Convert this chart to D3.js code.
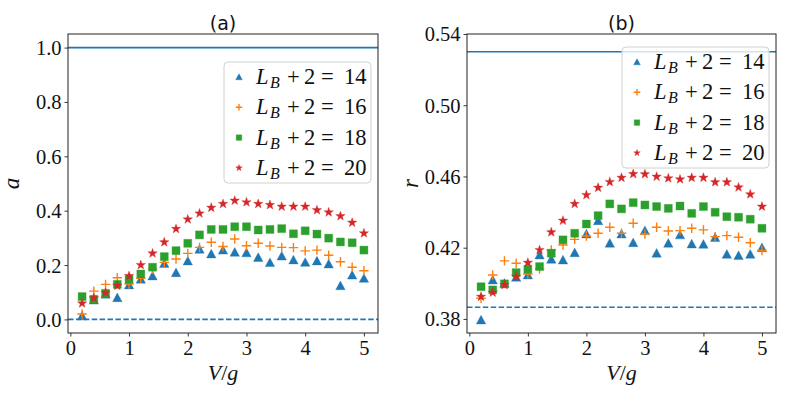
<!DOCTYPE html>
<html><head><meta charset="utf-8">
<script src="https://cdn.jsdelivr.net/npm/d3@7"></script>
<style>
body{margin:0;background:#fff;}
svg{display:block;}
</style></head>
<body>
<svg id="chart" width="797" height="399"></svg>
<script>
const V = [0.2,0.4,0.6,0.8,1.0,1.2,1.4,1.6,1.8,2.0,2.2,2.4,2.6,2.8,3.0,3.2,3.4,3.6,3.8,4.0,4.2,4.4,4.6,4.8,5.0];

const a14 = [0.013,0.071,0.093,0.080,0.127,0.148,0.160,0.206,0.172,0.215,0.258,0.241,0.255,0.247,0.245,0.228,0.209,0.233,0.219,0.210,0.215,0.204,0.124,0.163,0.151];
const a16 = [0.020,0.104,0.129,0.153,0.130,0.151,0.185,0.210,0.222,0.243,0.265,0.284,0.268,0.296,0.271,0.280,0.270,0.265,0.264,0.252,0.255,0.236,0.212,0.192,0.179];
const a18 = [0.084,0.074,0.096,0.129,0.147,0.167,0.192,0.231,0.253,0.280,0.311,0.331,0.331,0.341,0.341,0.329,0.331,0.334,0.315,0.326,0.314,0.299,0.285,0.282,0.255];
const a20 = [0.059,0.078,0.098,0.124,0.160,0.200,0.243,0.284,0.333,0.368,0.390,0.411,0.425,0.437,0.431,0.425,0.421,0.415,0.415,0.415,0.402,0.394,0.380,0.356,0.317];

const r14 = [0.3794,0.4019,0.4000,0.4034,0.4047,0.4159,0.4135,0.4131,0.4172,0.4277,0.4352,0.4225,0.4277,0.4228,0.4296,0.4169,0.4225,0.4272,0.4221,0.4219,0.4257,0.4163,0.4156,0.4163,0.4200];
const r16 = [0.3916,0.4047,0.4126,0.4113,0.4052,0.4080,0.4187,0.4215,0.4247,0.4266,0.4281,0.4315,0.4281,0.4337,0.4277,0.4315,0.4294,0.4296,0.4309,0.4300,0.4262,0.4268,0.4259,0.4228,0.4184];
const r18 = [0.3981,0.3963,0.3997,0.4060,0.4079,0.4094,0.4169,0.4244,0.4281,0.4333,0.4380,0.4446,0.4418,0.4453,0.4440,0.4431,0.4421,0.4434,0.4393,0.4431,0.4399,0.4374,0.4371,0.4360,0.4309];
const r20 = [0.3925,0.3948,0.3991,0.4038,0.4116,0.4187,0.4287,0.4352,0.4446,0.4496,0.4537,0.4569,0.4593,0.4614,0.4613,0.4599,0.4590,0.4584,0.4593,0.4593,0.4568,0.4568,0.4539,0.4500,0.4431];

const seriesSizes = ["14","16","18","20"];
const seriesColors = ["#1f77b4","#ff7f0e","#2ca02c","#d62728"];
const seriesMarkers = ["triangle","plus","square","star"];

const xTicks = [0,1,2,3,4,5];
const aTicks = [0.0,0.2,0.4,0.6,0.8,1.0];
const rTicks = [0.38,0.42,0.46,0.50,0.54];

const aRefLines = {solid:1.0, dashed:0.0};
const rRefLines = {solid:0.53, dashed:0.3866};

const svg = d3.select("#chart");
const serif = "'Liberation Serif', 'DejaVu Serif', serif";

function markerPath(type, s){
  if(type==="triangle"){
    return `M0,${-s}L${s},${s*0.85}L${-s},${s*0.85}Z`;
  }
  if(type==="square"){
    const h=s*0.85; return `M${-h},${-h}H${h}V${h}H${-h}Z`;
  }
  if(type==="plus"){
    return `M${-s},0H${s}M0,${-s}V${s}`;
  }
  if(type==="star"){
    let p=""; const ri=s*0.42;
    for(let k=0;k<10;k++){
      const r = k%2===0 ? s*1.05 : ri;
      const ang = -Math.PI/2 + k*Math.PI/5;
      p += (k===0?"M":"L") + (r*Math.cos(ang)).toFixed(2)+","+(r*Math.sin(ang)).toFixed(2);
    }
    return p+"Z";
  }
}

function drawMarker(g, type, color, x, y, s){
  const p = g.append("path").attr("d", markerPath(type,s)).attr("transform",`translate(${x},${y})`);
  if(type==="plus") p.attr("fill","none").attr("stroke",color).attr("stroke-width",1.4);
  else p.attr("fill",color).attr("stroke",color).attr("stroke-width",0.6).attr("stroke-opacity",0.6);
}

function panel(cfg){
  const {left,right,top,bottom,ylim,yTicks,yFmt,data,ref,title,ylabel,legend} = cfg;
  const x = d3.scaleLinear().domain([-0.04,5.24]).range([left,right]);
  const y = d3.scaleLinear().domain(ylim).range([bottom,top]);
  const g = svg.append("g");

  g.append("line").attr("x1",left).attr("x2",right).attr("y1",y(ref.solid)).attr("y2",y(ref.solid))
    .attr("stroke","#1f77b4").attr("stroke-width",1.6);
  g.append("line").attr("x1",left).attr("x2",right).attr("y1",y(ref.dashed)).attr("y2",y(ref.dashed))
    .attr("stroke","#1f77b4").attr("stroke-width",1.6).attr("stroke-dasharray","5.5,2.4");

  data.forEach((vals,si)=>{
    const sg = g.append("g");
    vals.forEach((v,i)=>{
      drawMarker(sg, seriesMarkers[si], seriesColors[si], x(V[i]), y(v), 4.7);
    });
  });

  const xa = g.append("g").attr("transform",`translate(0,${bottom})`)
    .call(d3.axisBottom(x).tickValues(xTicks).tickFormat(d3.format("d")).tickSize(3.5).tickPadding(3));
  const ya = g.append("g").attr("transform",`translate(${left},0)`)
    .call(d3.axisLeft(y).tickValues(yTicks).tickFormat(d3.format(yFmt)).tickSize(3.5).tickPadding(3));
  [xa,ya].forEach(a=>{
    a.select(".domain").remove();
    a.selectAll(".tick line").attr("stroke","#222").attr("stroke-width",0.9);
    a.selectAll(".tick text").attr("font-family",serif).attr("font-size",20.5).attr("fill","#111");
  });
  xa.selectAll(".tick text").attr("dy","0.78em");
  ya.selectAll(".tick text").attr("dy","0.34em");

  g.append("rect").attr("x",left).attr("y",top).attr("width",right-left).attr("height",bottom-top)
    .attr("fill","none").attr("stroke","#222").attr("stroke-width",1);

  g.append("text").attr("x",(left+right)/2).attr("y",top-4).attr("text-anchor","middle")
    .attr("font-family","'DejaVu Sans', sans-serif").attr("font-size",19).attr("fill","#111").text(title);

  const xl = g.append("text").attr("x",(left+right)/2).attr("y",380).attr("text-anchor","middle")
    .attr("font-family",serif).attr("font-size",22).attr("fill","#111");
  xl.append("tspan").attr("font-style","italic").text("V");
  xl.append("tspan").text("/");
  xl.append("tspan").attr("font-style","italic").text("g");

  g.append("text").attr("transform",`translate(${left-49},${(top+bottom)/2}) rotate(-90)`)
    .attr("text-anchor","middle").attr("font-family",serif).attr("font-style","italic")
    .attr("font-size",23).attr("fill","#111").text(ylabel);

  const lg = g.append("g");
  lg.append("rect").attr("x",legend.x).attr("y",legend.y).attr("width",legend.w).attr("height",legend.h)
    .attr("rx",4).attr("fill","#fff").attr("fill-opacity",0.8).attr("stroke","#d0d0d0").attr("stroke-width",1);
  seriesSizes.forEach((sz,i)=>{
    const cy = legend.y + 15 + i*30.3;
    drawMarker(lg, seriesMarkers[i], seriesColors[i], legend.x+15, cy, 3.3);
    const tx = legend.x + 32;
    const base = cy + 7;
    const t = lg.append("text").attr("font-family",serif).attr("font-size",22.5).attr("fill","#111");
    t.append("tspan").attr("x",tx).attr("y",base).attr("font-style","italic").text("L");
    t.append("tspan").attr("x",tx+14).attr("y",base+4).attr("font-style","italic").attr("font-size",16).text("B");
    t.append("tspan").attr("x",tx+31).attr("y",base).text("+");
    t.append("tspan").attr("x",tx+48).attr("y",base).text("2");
    t.append("tspan").attr("x",tx+65).attr("y",base).text("=");
    t.append("tspan").attr("x",tx+88).attr("y",base).text(sz);
  });
}

panel({left:68,right:378,top:34,bottom:333,ylim:[-0.05,1.05],yTicks:aTicks,yFmt:".1f",
  data:[a14,a16,a18,a20],ref:aRefLines,title:"(a)",ylabel:"a",
  legend:{x:224,y:62,w:147,h:121}});
panel({left:467,right:776,top:34,bottom:333,ylim:[0.3721,0.54],yTicks:rTicks,yFmt:".2f",
  data:[r14,r16,r18,r20],ref:rRefLines,title:"(b)",ylabel:"r",
  legend:{x:622,y:47,w:147,h:121}});
</script>
</body></html>
